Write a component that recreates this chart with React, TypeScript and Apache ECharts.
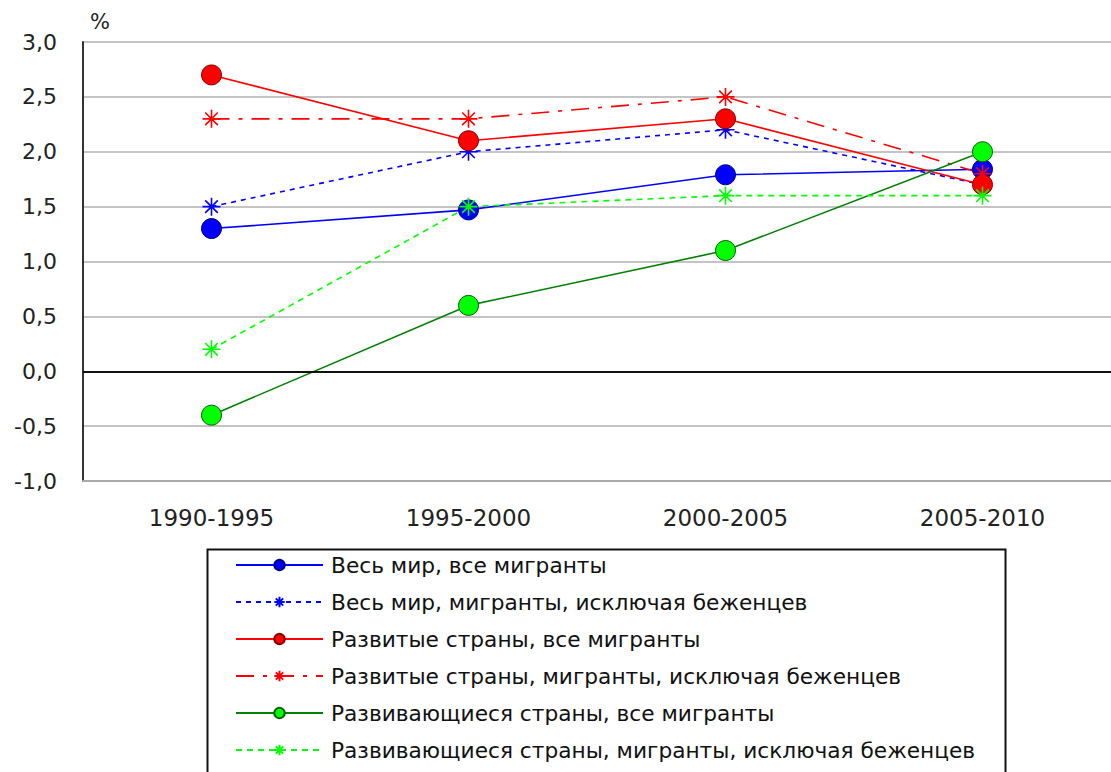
import React, { useEffect, useRef } from "react";
import * as echarts from "echarts";

const categories = ["1990-1995", "1995-2000", "2000-2005", "2005-2010"];
const seriesNames = [
  "Весь мир, все мигранты",
  "Весь мир, мигранты, исключая беженцев",
  "Развитые страны, все мигранты",
  "Развитые страны, мигранты, исключая беженцев",
  "Развивающиеся страны, все мигранты",
  "Развивающиеся страны, мигранты, исключая беженцев",
];
const worldAll = [1.3, 1.47, 1.79, 1.84];
const worldExcl = [1.5, 2.0, 2.2, 1.7];
const devAll = [2.7, 2.1, 2.3, 1.7];
const devExcl = [2.3, 2.3, 2.5, 1.8];
const dvgAll = [-0.4, 0.6, 1.1, 2.0];
const dvgExcl = [0.2, 1.5, 1.6, 1.6];
const yMin = -1;
const yMax = 3;
const yStep = 0.5;
const unitLabel = "%";

const FONT = "DejaVu Sans";
const ASTERISK = "path://M10 0 L10 20 M0 10 L20 10 M3 3 L17 17 M3 17 L17 3";

function solidSeries(name: string, data: number[], line: string, fill: string, border: string) {
  return {
    name,
    type: "line",
    data,
    symbol: "circle",
    symbolSize: 20,
    lineStyle: { color: line, width: 1.6, type: "solid" },
    itemStyle: { color: fill, borderColor: border, borderWidth: 1 },
  };
}

function starSeries(name: string, data: number[], color: string, dash: number[]) {
  return {
    name,
    type: "line",
    data,
    symbol: ASTERISK,
    symbolSize: 18,
    lineStyle: { color, width: 1.6, type: dash },
    itemStyle: { color: "rgba(0,0,0,0)", borderColor: color, borderWidth: 1.6 },
  };
}

export default function App() {
  const ref = useRef<HTMLDivElement>(null);
  useEffect(() => {
    if (!ref.current) return;
    const chart = echarts.init(ref.current, null, { renderer: "svg" });
    const s0: any = solidSeries(seriesNames[0], worldAll, "#0000ff", "#0000ff", "#000080");
    s0.markLine = {
      silent: true,
      symbol: "none",
      label: { show: false },
      lineStyle: { color: "#111", width: 2, type: "solid" },
      data: [{ yAxis: 0 }],
    };
    chart.setOption({
      animation: false,
      backgroundColor: "#fff",
      textStyle: { fontFamily: FONT },
      grid: { left: 83, right: -10, top: 42, bottom: 291, containLabel: false },
      xAxis: {
        type: "category",
        data: categories,
        boundaryGap: true,
        axisLine: { onZero: false, lineStyle: { color: "#aaa", width: 2 } },
        axisTick: { show: false },
        axisLabel: { color: "#222", fontSize: 23, fontFamily: FONT, margin: 25 },
        splitLine: { show: false },
      },
      yAxis: {
        type: "value",
        min: yMin,
        max: yMax,
        interval: yStep,
        axisLine: { show: true, lineStyle: { color: "#333", width: 2 } },
        axisTick: { show: false },
        axisLabel: {
          color: "#222",
          fontSize: 22,
          fontFamily: FONT,
          margin: 26,
          formatter: (v: number) => v.toFixed(1).replace(".", ","),
        },
        splitLine: { show: true, lineStyle: { color: "#c4c4c4", width: 2 } },
      },
      legend: {
        orient: "vertical",
        left: 235,
        top: 554,
        itemWidth: 87,
        itemHeight: 13,
        itemGap: 15,
        padding: 0,
        textStyle: { color: "#111", fontSize: 21.7, fontFamily: FONT, lineHeight: 22, padding: [0, 0, 0, 3] },
        data: seriesNames,
      },
      graphic: [
        {
          type: "text",
          left: 90,
          top: 11,
          style: { text: unitLabel, fill: "#222", font: `21px "${FONT}"` },
        },
        {
          type: "rect",
          left: 205,
          top: 547,
          shape: { x: 0, y: 0, width: 798, height: 240 },
          style: { fill: "none", stroke: "#111", lineWidth: 2 },
          silent: true,
        },
      ],
      series: [
        s0,
        starSeries(seriesNames[1], worldExcl, "#0000ff", [5, 5]),
        solidSeries(seriesNames[2], devAll, "#ff0000", "#ff0000", "#800000"),
        starSeries(seriesNames[3], devExcl, "#ff0000", [18, 9, 4, 9]),
        solidSeries(seriesNames[4], dvgAll, "#008000", "#00ff00", "#006000"),
        starSeries(seriesNames[5], dvgExcl, "#00ff00", [6, 5]),
      ],
    });
    return () => chart.dispose();
  }, []);
  return <div ref={ref} style={{ width: 1111, height: 772, position: "absolute", left: 0, top: 0 }} />;
}
